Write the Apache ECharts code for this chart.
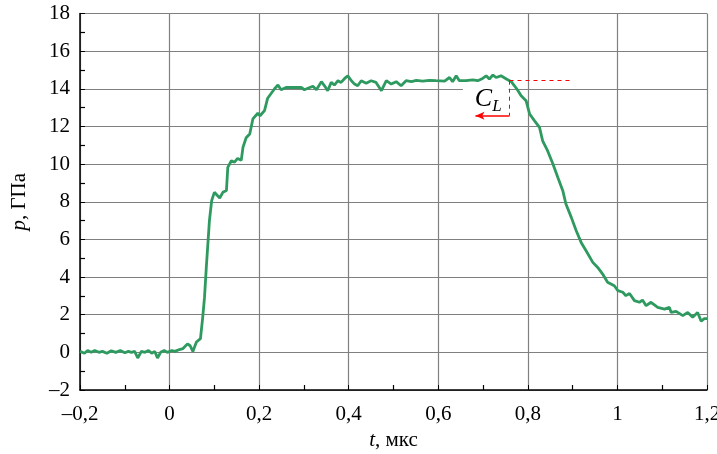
<!DOCTYPE html>
<html>
<head>
<meta charset="utf-8">
<script src="https://cdn.jsdelivr.net/npm/echarts@6/dist/echarts.min.js"></script>
<style>html,body{margin:0;padding:0;background:#fff}#c{width:717px;height:454px}</style>
</head>
<body>
<div id="c"></div>
<script>
// time, μs
const tValues = [
 -0.2,-0.19,-0.183,-0.175,-0.167,-0.158,-0.15,-0.14,-0.13,-0.12,-0.11,-0.1,-0.092,-0.085,-0.078,-0.071,-0.063,-0.055,-0.047,-0.04,-0.033,-0.027,-0.02,-0.012,-0.005,0.005,0.012,0.022,0.03,0.04,0.046,0.052,0.06,0.069,
 0.074,0.078,0.082,0.086,0.089,0.094,0.1,0.112,0.119,0.127,0.13,0.138,0.145,0.152,0.16,0.164,0.171,0.179,0.186,0.197,0.202,0.212,0.219,
 0.234,0.242,0.249,0.26,0.294,0.301,0.313,0.32,0.328,0.339,0.346,0.353,0.361,0.368,0.376,0.383,0.391,0.398,0.406,0.413,0.42,0.428,0.439,0.45,0.461,0.473,0.484,0.495,0.506,0.517,0.528,0.54,0.551,0.565,0.58,0.595,0.614,0.625,0.632,0.64,0.647,
 0.662,0.677,0.688,0.699,0.707,0.714,0.722,0.729,0.74,0.752,0.763,0.77,0.778,0.785,0.796,0.804,0.815,0.826,0.833,0.844,0.856,0.867,0.878,0.885,0.897,0.908,0.919,0.93,0.945,0.956,0.967,0.978,
 0.993,1.001,1.012,1.019,1.027,1.038,1.049,1.056,1.064,1.075,1.09,1.105,1.116,1.12,1.131,1.146,1.157,1.168,1.179,1.187,1.194,1.2
];
// pressure, GPa
const pValues = [
 0.05,-0.05,0.1,0.0,0.1,0.0,0.05,-0.05,0.08,0.0,0.1,-0.02,0.05,0.0,0.05,-0.3,0.05,0.0,0.1,-0.05,0.05,-0.3,0.0,0.1,0.0,0.1,0.05,0.15,0.2,0.45,0.35,0.05,0.55,0.73,
 1.86,2.92,4.5,5.93,7.0,8.06,8.5,8.2,8.5,8.6,9.83,10.18,10.1,10.3,10.2,10.9,11.4,11.6,12.4,12.7,12.57,12.84,13.5,
 13.99,14.2,13.95,14.07,14.07,13.95,14.07,14.13,13.95,14.38,14.16,13.9,14.34,14.2,14.43,14.34,14.55,14.69,14.43,14.25,14.16,14.43,14.3,14.43,14.34,13.9,14.43,14.25,14.38,14.16,14.43,14.38,14.45,14.41,14.45,14.43,14.41,14.6,14.38,14.69,14.43,
 14.43,14.48,14.43,14.55,14.69,14.52,14.73,14.6,14.69,14.52,14.38,14.16,13.9,13.63,13.37,12.66,12.3,11.95,11.24,10.71,10.0,9.29,8.59,7.88,7.17,6.46,5.84,5.4,4.78,4.51,4.16,3.72,
 3.54,3.28,3.19,3.01,3.13,2.75,2.66,2.78,2.48,2.66,2.39,2.3,2.39,2.12,2.18,1.95,2.12,1.86,2.12,1.65,1.79,1.79
];
const xTicks = [-0.2, 0, 0.2, 0.4, 0.6, 0.8, 1, 1.2];
const yTicks = [-2, 0, 2, 4, 6, 8, 10, 12, 14, 16, 18];
// C_L annotation (data units)
const clLevel = 14.43;
const clTime = 0.759;
const clDashEnd = 0.9;
const clArrowLevel = 12.57;
const clArrowEnd = 0.683;
const clBox = [[0.655, 13.0], [0.757, 14.2]];
const clTextC = [0.701, 13.47];
const clTextL = [0.731, 13.05];

const data = tValues.map((t, i) => [t, pValues[i]]);
const fmt = v => {
  let s = String(Math.round(v * 1000) / 1000).replace('.', ',');
  return s.replace('-', '\u2013');
};
const serif = '"Liberation Serif", "Times New Roman", serif';
const chart = echarts.init(document.getElementById('c'), null, {renderer: 'canvas'});
chart.setOption({
  animation: false,
  backgroundColor: '#fff',
  grid: {left: 80, right: 10, top: 13.5, bottom: 64, show: false, containLabel: false, outerBoundsMode: 'none'},
  xAxis: {
    type: 'value', min: xTicks[0], max: xTicks[xTicks.length - 1], interval: 0.2,
    name: '{i|t}, мкс', nameLocation: 'middle', nameGap: 40,
    nameTextStyle: {fontFamily: serif, fontSize: 21, color: '#000', rich: {i: {fontFamily: serif, fontSize: 21, fontStyle: 'italic', color: '#000'}}},
    axisLine: {show: true, onZero: false, lineStyle: {color: '#000', width: 1.5}},
    axisTick: {show: true, inside: true, length: 5, lineStyle: {color: '#000'}},
    minorTick: {show: true, splitNumber: 2, length: 5, lineStyle: {color: '#000', width: 1.2}},
    splitLine: {show: true, lineStyle: {color: '#808080', width: 1.2}},
    axisLabel: {fontFamily: serif, fontSize: 21, color: '#000', margin: 14, formatter: fmt, showMaxLabel: true, showMinLabel: true, hideOverlap: false}
  },
  yAxis: {
    type: 'value', min: yTicks[0], max: yTicks[yTicks.length - 1], interval: 2,
    name: '{i|p}, ГПа', nameLocation: 'middle', nameGap: 50,
    nameTextStyle: {fontFamily: serif, fontSize: 21, color: '#000', rich: {i: {fontFamily: serif, fontSize: 21, fontStyle: 'italic', color: '#000'}}},
    axisLine: {show: true, onZero: false, lineStyle: {color: '#000', width: 1.5}},
    axisTick: {show: true, inside: true, length: 5, lineStyle: {color: '#000'}},
    minorTick: {show: true, splitNumber: 2, length: 5, lineStyle: {color: '#000', width: 1.2}},
    splitLine: {show: true, lineStyle: {color: '#808080', width: 1.2}},
    axisLabel: {fontFamily: serif, fontSize: 21, color: '#000', margin: 10, formatter: fmt}
  },
  series: [
    {
      type: 'line', data: [], silent: true, z: 1,
      markArea: {silent: true, itemStyle: {color: '#fff'},
        data: [[{coord: clBox[0]}, {coord: clBox[1]}]]}
    },
    {
      type: 'line', data: data, showSymbol: false, symbol: 'none', z: 3,
      lineStyle: {color: '#2e9a60', width: 2.8},
      markLine: {
        silent: true, symbol: ['none', 'none'], animation: false,
        label: {show: false},
        lineStyle: {color: '#ff0000', type: [4, 4], width: 1},
        data: [
          [{coord: [clTime, clLevel]}, {coord: [clDashEnd, clLevel]}],
          [{coord: [clTime, clLevel]}, {coord: [clTime, clArrowLevel]}],
          [{coord: [clTime, clArrowLevel], lineStyle: {type: 'solid', width: 1.5, color: '#ff0000'}},
           {coord: [clArrowEnd, clArrowLevel], symbol: 'arrow', symbolSize: [6, 9], lineStyle: {type: 'solid', width: 1.5, color: '#ff0000'}}]
        ]
      },
      markPoint: {
        silent: true, symbol: 'circle', symbolSize: 0,
        data: [
          {coord: clTextC, label: {show: true, formatter: 'C', fontFamily: serif, fontSize: 26, fontStyle: 'italic', color: '#000', position: 'inside'}},
          {coord: clTextL, label: {show: true, formatter: 'L', fontFamily: serif, fontSize: 17, fontStyle: 'italic', color: '#000', position: 'inside'}}
        ]
      }
    }
  ]
});
</script>
</body>
</html>
